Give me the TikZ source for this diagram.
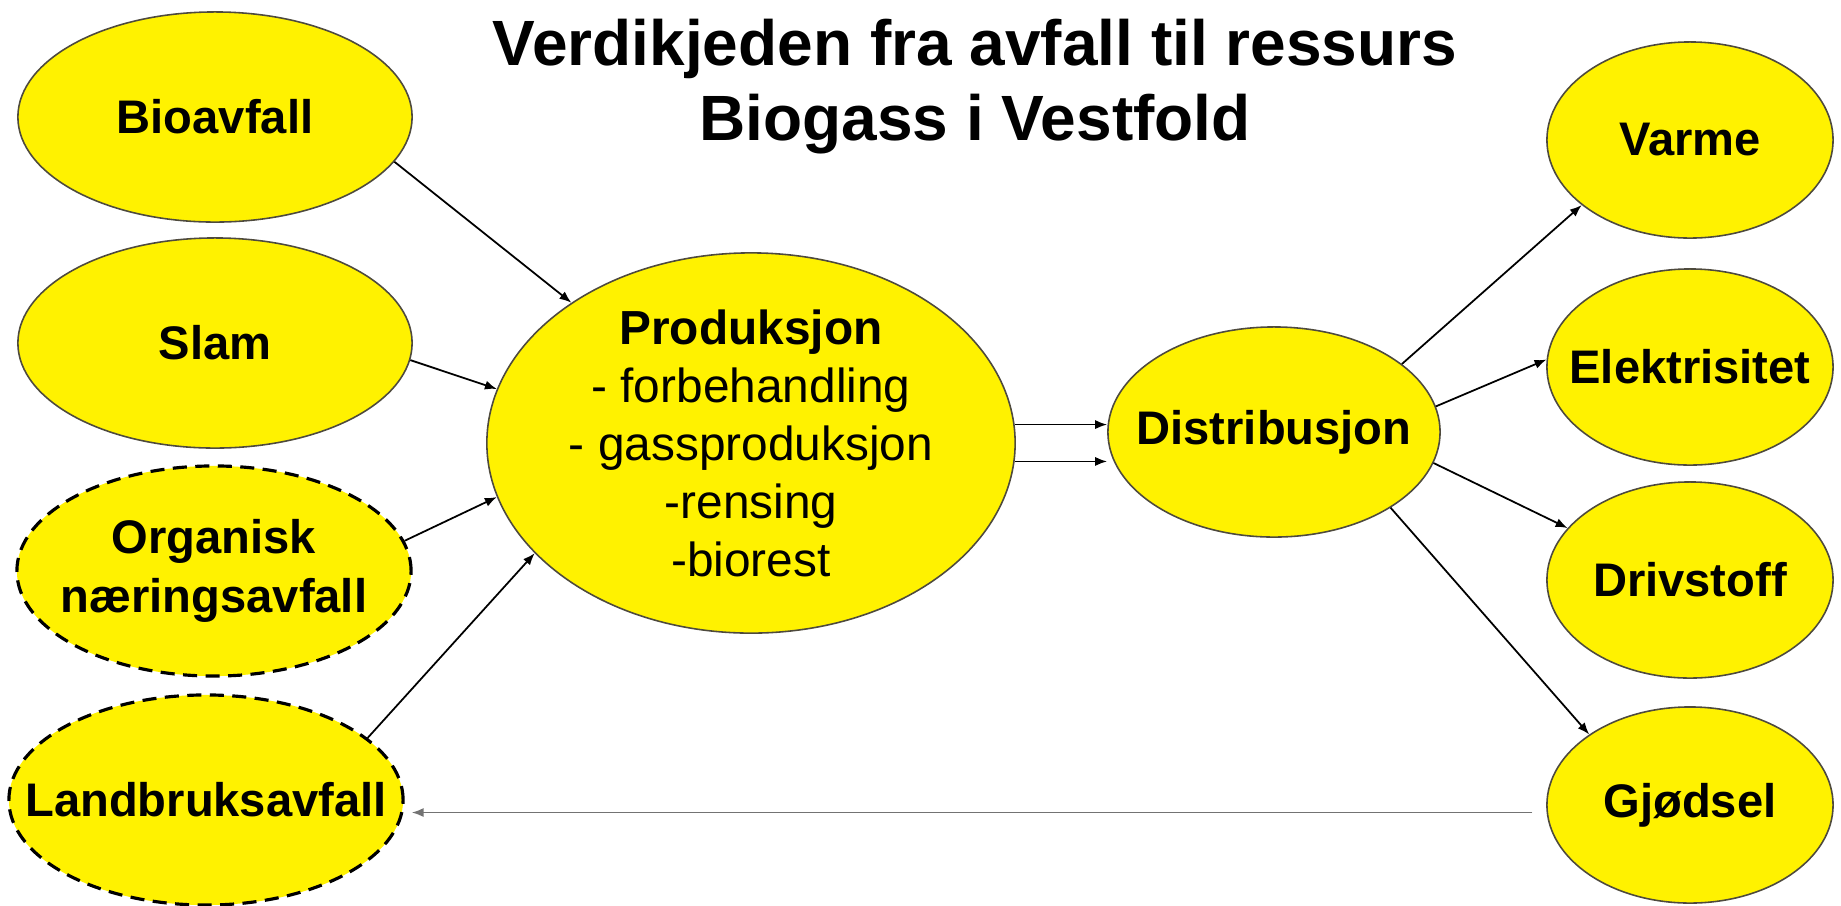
\documentclass[tikz,border=0pt]{standalone}
\usepackage{fontspec}
\setmainfont{Liberation Sans}
\usetikzlibrary{shapes.geometric,arrows.meta}

\def\inputs{{(215,117)/bio/Bioavfall}, {(215,343)/slam/Slam}}
\def\optional{{(214,571)/org/{Organisk\\næringsavfall}}, {(206,800)/land/Landbruksavfall}}
\def\products{{(1690,140)/varme/Varme}, {(1690,367)/el/Elektrisitet}, {(1690,580)/driv/Drivstoff}, {(1690,805)/gjod/Gjødsel}}
\def\feeds{bio/-14/142, slam/-5/168, org/9/192, land/21/207.5}
\def\uses{varme/28.5/211, el/9/177, driv/-11/157, gjod/-33.5/145}
\colorlet{blob area}{yellow}
\colorlet{blob edge}{black!80!yellow}
\tikzstyle{blob}=[ellipse, fill=blob area, draw=blob edge, line width=0.45pt, inner sep=0pt]
\tikzstyle{source blob}=[blob, minimum width=3.94cm, minimum height=2.10cm]
\tikzstyle{maybe blob}=[source blob, draw=black, line width=0.9pt, dash pattern=on 4pt off 2.4pt]
\tikzstyle{product blob}=[blob, minimum width=2.86cm, minimum height=1.96cm]
\tikzstyle{blobtext}=[align=center, inner sep=0pt, font=\fontsize{13.4}{16.8}\selectfont\bfseries]
\tikzstyle{listtext}=[align=center, inner sep=0pt, font=\fontsize{13.6}{16.5}\selectfont]
\tikzstyle{flow}=[draw, line width=0.5pt, -{Latex[length=3.4pt,width=2.6pt]}]

\begin{document}
\begin{tikzpicture}[x=0.01cm, y=-0.01cm]
  \useasboundingbox (0,0) rectangle (1841,905);

  % Title (base is the last line)
  \node[font=\fontsize{18.2}{21.3}\selectfont\bfseries, align=center, anchor=base] (title) at (975,140)
    {Verdikjeden fra avfall til ressurs\\Biogass i Vestfold};

  % The waste going in
  \foreach \pos/\name/\txt in \inputs {
    \node[source blob] (\name) at \pos {};
    \node[blobtext] (\name-txt) at \pos {\txt};
  }
  % the uncertain ones
  \foreach \pos/\name/\txt in \optional {
    \node[maybe blob] (\name) at \pos {};
    \node[blobtext] (\name-txt) at \pos {\txt};
  }

  % Plant and distribution
  \node[blob, minimum width=5.28cm, minimum height=3.80cm] (prod) at (751,443) {};
  \node[listtext] (prod-txt) at (prod)
    {\textbf{Produksjon}\\- forbehandling\\- gassproduksjon\\-rensing\\-biorest};
  \node[blob, minimum width=3.32cm, minimum height=2.10cm] (distr) at (1274,432) {};
  \node[blobtext] (distr-txt) at (distr) {Distribusjon};

  % What comes out
  \foreach \pos/\name/\txt in \products {
    \node[product blob] (\name) at \pos {};
    \node[blobtext] (\name-txt) at \pos {\txt};
  }

  % The arrows between them
  \foreach \src/\a/\b in \feeds
    \path[flow] (\src.\a) -- (prod.\b);
  \foreach \a in {4.6,-4.4}
    \path[flow] (prod.\a) -- (prod.\a -| distr.west);
  \foreach \sink/\a/\b in \uses
    \path[flow] (distr.\a) -- (\sink.\b);
  \path[flow, draw=black!55, shorten <=4pt, shorten >=2pt] (gjod.183) -- (gjod.183 -| land.east);
\end{tikzpicture}
\end{document}
